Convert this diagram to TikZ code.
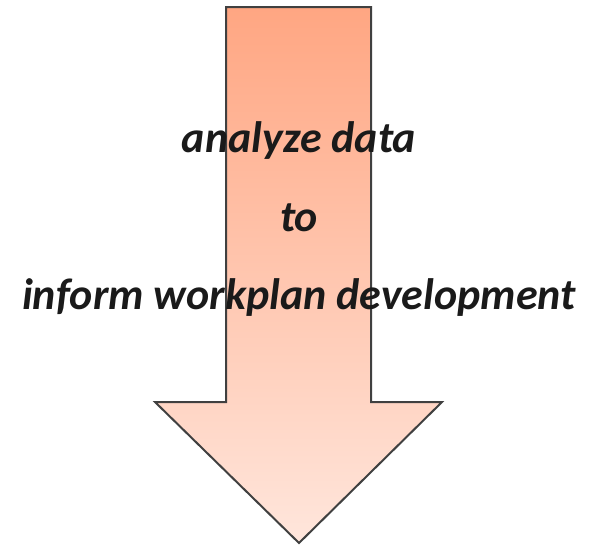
\documentclass[tikz,border=0pt]{standalone}
\usepackage{fontspec}
\setmainfont{Carlito}
\usepackage{tikz}
\definecolor{arrowtop}{HTML}{FFA682}
\definecolor{arrowbottom}{HTML}{FFE6DC}
\definecolor{arrowline}{HTML}{404040}
\definecolor{textcolor}{HTML}{1A1A1A}
\tikzset{big arrow/.style={draw=arrowline,line width=1.5pt,line join=miter,top color=arrowtop,bottom color=arrowbottom},step text/.style={anchor=base,inner sep=0pt,text=textcolor,font=\fontsize{33}{40}\selectfont\bfseries\itshape}}

\begin{document}
\begin{tikzpicture}[x=0.75pt,y=-0.75pt]
 \useasboundingbox (0,0) rectangle (598,546);
 % the downward arrow
 \draw[big arrow] (226,7) -- (371,7) -- (371,402) -- (442,402) -- (299,543) -- (155,402) -- (226,402) -- cycle;
 % the three lines of text over it
 \node[step text] (what) at (299,152) {analyze data};
 \node[step text] (link) at (299,231) {to};
 \node[step text] (why) at (299,309) {inform workplan development};
\end{tikzpicture}
\end{document}
